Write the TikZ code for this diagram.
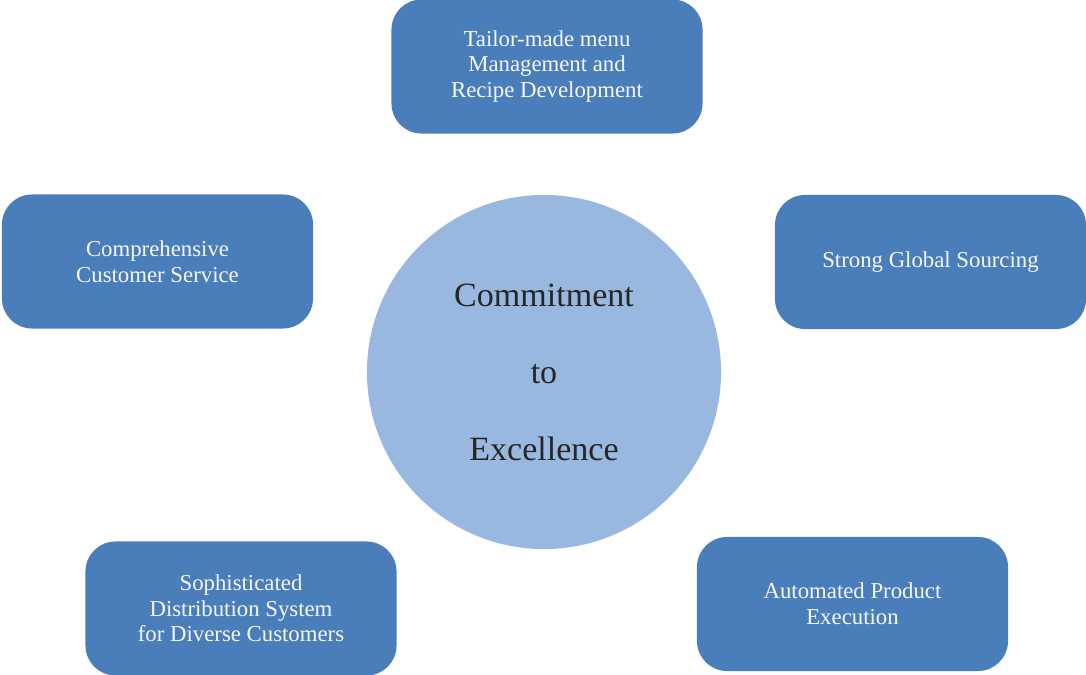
\documentclass[tikz,border=0pt]{standalone}
\usepackage{fontspec}
\setmainfont{Liberation Serif}
\usetikzlibrary{positioning}
\definecolor{boxblue}{RGB}{74,126,187}
\definecolor{hubblue}{RGB}{152,184,224}
\definecolor{boxtext}{RGB}{246,248,252}

\begin{document}
\begin{tikzpicture}[x=0.025cm,y=-0.025cm,
  box/.style={rectangle,rounded corners=0.75cm,fill=boxblue,draw=none,
    minimum width=7.775cm,minimum height=3.35cm,align=center,
    text=boxtext,font=\fontsize{16.2}{18.2}\selectfont},
  hub/.style={circle,fill=hubblue,draw=none,minimum size=8.85cm,
    align=center,text=black!85,font=\fontsize{24.2}{54.8}\selectfont}]
\useasboundingbox (0,0) rectangle (1086,675);
\node[hub] (hub) at (544,372) {Commitment\\to\\Excellence};
\node[box] (menu) at (547,66.5) {Tailor-made menu\\Management and\\Recipe Development};
\node[box] (service) at (157.5,261.5) {Comprehensive\\Customer Service};
\node[box] (sourcing) at (930.5,262) {Strong Global Sourcing};
\node[box] (distribution) at (241,608.5) {Sophisticated\\Distribution System\\for Diverse Customers};
\node[box] (execution) at (852.5,604) {Automated Product\\Execution};
\end{tikzpicture}
\end{document}
